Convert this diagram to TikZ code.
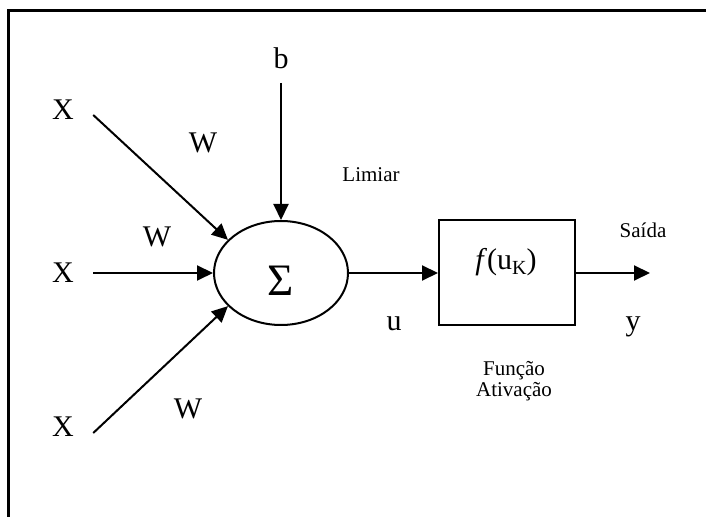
\documentclass[tikz,border=0pt]{standalone}
\usepackage{fontspec}
\setmainfont{Liberation Serif}
\usetikzlibrary{shapes.geometric,arrows.meta,calc}
\begin{document}
\begin{tikzpicture}[x=0.5pt,y=-0.5pt,
  big/.style={font=\fontsize{15}{18}\selectfont, inner sep=0pt},
  small/.style={font=\fontsize{10.5}{10.5}\selectfont, inner sep=0pt, align=center},
  arr/.style={line width=1pt, -{Triangle[length=8pt,width=7.5pt]}},
  frame/.style={line width=1.5pt}]
\useasboundingbox (0,0) rectangle (706,517);
\coordinate (fbl) at (8.7,517);
\coordinate (ftl) at (8.7,10.7);
\coordinate (ftr) at (706,10.7);
\draw[frame] (fbl) -- (ftl) -- (ftr);
% summing junction
\node[ellipse, draw, line width=1pt, minimum width=67pt, minimum height=52pt, inner sep=0pt] (sum) at (281,273) {};
\node[inner sep=0pt, font=\fontsize{22.5}{24}\selectfont] (sigma) at (281,281) {Σ};
% activation box
\node[draw, line width=1pt, minimum width=68pt, minimum height=52.5pt, inner sep=0pt] (box) at (507,273) {};
\node[big] (ftext) at (506,262) {\textit{f}(u\raisebox{-0.35ex}{\fontsize{10}{12}\selectfont K})};
% inputs
\node[big] (x1) at (63,110) {X};
\node[big] (x2) at (63,273) {X};
\node[big] (x3) at (63,427) {X};
\node[big] (b) at (281,58) {b};
\node[big] (w1) at (203,143) {W};
\node[big] (w2) at (157,237) {W};
\node[big] (w3) at (188,409) {W};
\node[small] (lim) at (371,175) {Limiar};
\node[big] (u) at (394,324) {u};
\node[small] (said) at (643,230) {Saída};
\node[big] (y) at (633,327) {y};
\node[small] (func) at (514,381) {Função\\Ativação};
\coordinate (yend) at (650,273);
% connectors
\draw[arr] ($(x1.east)+(19,5)$) -- (sum.148);
\draw[arr] ($(x2.east)+(19,0)$) -- (sum.west);
\draw[arr] ($(x3.east)+(19,6)$) -- (sum.212);
\draw[arr] ($(b.south)+(0,14)$) -- (sum.north);
\draw[arr] (sum.east) -- (box.west);
\draw[arr] (box.east) -- (yend);
\end{tikzpicture}
\end{document}
